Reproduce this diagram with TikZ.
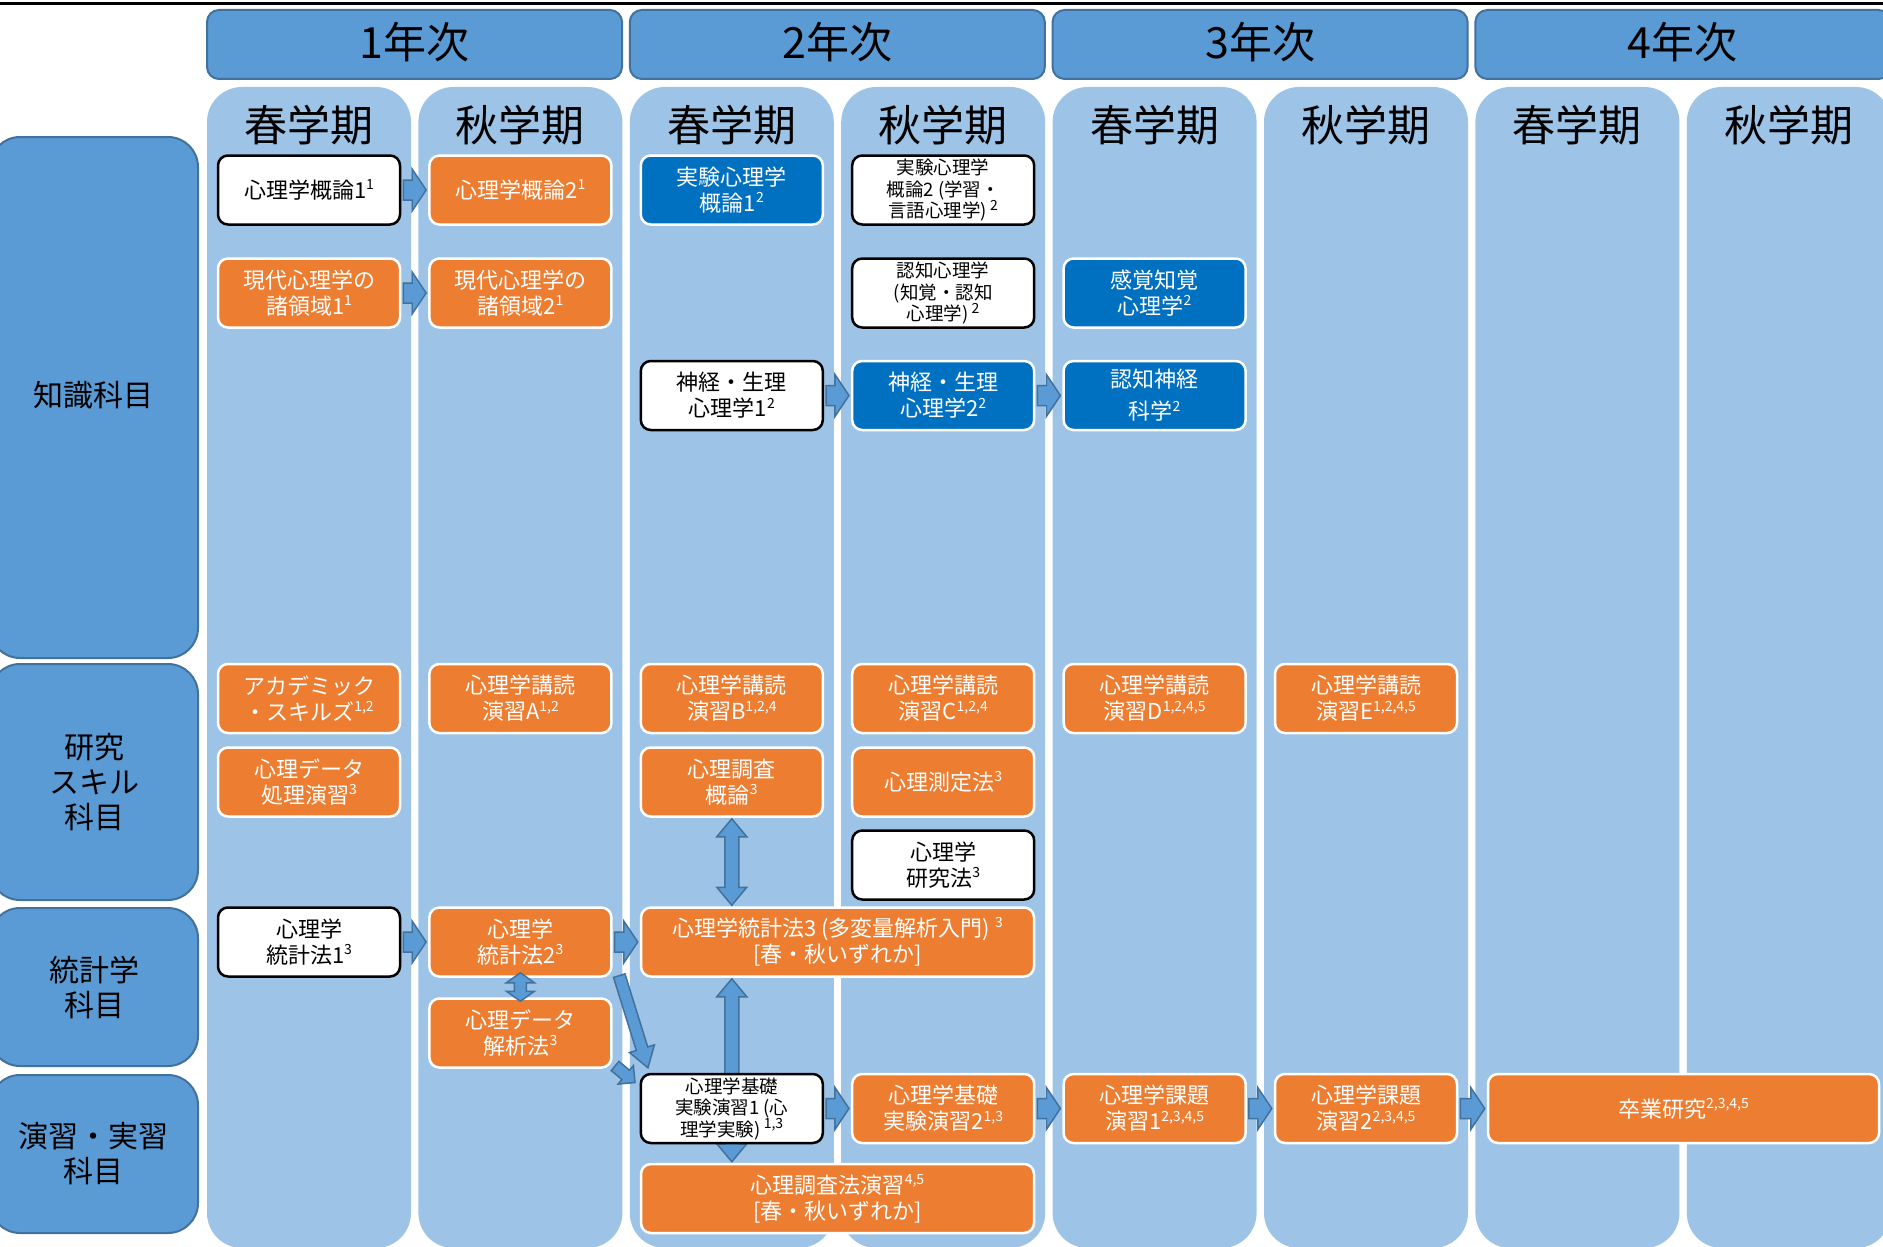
\documentclass[tikz,border=0pt]{standalone}
\usepackage{fontspec}
\setmainfont{Noto Sans CJK JP}
\usetikzlibrary{calc}
\definecolor{colbg}{HTML}{9DC3E6}
\definecolor{headbg}{HTML}{5B9BD5}
\definecolor{headline}{HTML}{41719C}
\definecolor{orangebox}{HTML}{ED7D31}
\definecolor{bluebox}{HTML}{0070C0}
\pgfdeclarelayer{back}
\pgfdeclarelayer{mid}
\pgfsetlayers{back,mid,main}
\newcommand\supnum[1]{\raisebox{.4em}{\fontsize{14}{14}\selectfont#1}}
\newcommand\fatarrow[5]{%
  \begin{scope}[x=1pt,y=1pt]
  \draw[blockarrow] let \p1=($(#4)!2pt!(#5)$),\p2=($(#5)!2pt!(#4)$),
    \n1={atan2((\y2)-(\y1),(\x2)-(\x1))},\n2={veclen((\x2)-(\x1),(\y2)-(\y1))-#3} in
    ($(\p1)+(\n1+90:#1)$) -- ($(\p1)+(\n1:\n2)+(\n1+90:#1)$) -- ($(\p1)+(\n1:\n2)+(\n1+90:#2)$) -- (\p2)
    -- ($(\p1)+(\n1:\n2)+(\n1-90:#2)$) -- ($(\p1)+(\n1:\n2)+(\n1-90:#1)$) -- ($(\p1)+(\n1-90:#1)$) -- cycle;
  \end{scope}}
\newcommand\fatdarrow[5]{%
  \begin{scope}[x=1pt,y=1pt]
  \draw[blockarrow] let \p1=($(#4)!1pt!(#5)$),\p2=($(#5)!1pt!(#4)$),
    \n1={atan2((\y2)-(\y1),(\x2)-(\x1))},\n2={veclen((\x2)-(\x1),(\y2)-(\y1))-#3} in
    (\p1) -- ($(\p1)+(\n1:#3)+(\n1+90:#2)$) -- ($(\p1)+(\n1:#3)+(\n1+90:#1)$) -- ($(\p1)+(\n1:\n2)+(\n1+90:#1)$)
    -- ($(\p1)+(\n1:\n2)+(\n1+90:#2)$) -- (\p2) -- ($(\p1)+(\n1:\n2)+(\n1-90:#2)$) -- ($(\p1)+(\n1:\n2)+(\n1-90:#1)$)
    -- ($(\p1)+(\n1:#3)+(\n1-90:#1)$) -- ($(\p1)+(\n1:#3)+(\n1-90:#2)$) -- cycle;
  \end{scope}}
\tikzset{
  course/.style={rounded corners=10pt,minimum width=182pt,minimum height=69pt,inner sep=1pt,align=center,
    line width=2.5pt,font=\fontsize{22}{26}\selectfont},
  wcourse/.style={course,draw=black,fill=white,text=black},
  ocourse/.style={course,draw=white,fill=orangebox,text=white},
  bcourse/.style={course,draw=white,fill=bluebox,text=white},
  smalltext/.style={font=\fontsize{18.5}{21.5}\selectfont},
  rowlabel/.style={draw=headline,fill=headbg,line width=2pt,rounded corners=30pt,align=center,
    minimum width=208pt,font=\fontsize{30}{35}\selectfont},
  yearbox/.style={draw=headline,fill=headbg,line width=2pt,rounded corners=12pt,minimum width=415pt,
    minimum height=69pt,font=\fontsize{43}{50}\selectfont},
  semlabel/.style={font=\fontsize{43}{50}\selectfont},
  blockarrow/.style={fill=headbg,draw=headline,line width=1.5pt,line join=miter}
}
\begin{document}
\begin{tikzpicture}[x=1pt,y=-1pt]
\useasboundingbox (0,0) rectangle (1883,1247);
\draw[line width=2.5pt] (0,3.5) -- (1883,3.5);
\begin{pgfonlayer}{back}
\foreach \i in {0,...,7}
  \fill[colbg,rounded corners=35pt] ({207+211.4*\i},87) rectangle ++(204,1161);
\end{pgfonlayer}
\foreach \i in {1,...,4}
  \node[yearbox] (year\i) at ({414.5+422.8*(\i-1)},44.5) {\raisebox{9pt}{\i 年次}};
\foreach \i/\sem in {1/春,2/秋,3/春,4/秋,5/春,6/秋,7/春,8/秋}
  \node[semlabel] (sem\i) at ({309+211.4*(\i-1)},125) {\sem 学期};
\node[rowlabel,minimum height=521pt] (knowledge) at (94,397.5) {\raisebox{7pt}{知識科目}};
\node[rowlabel,minimum height=236pt] (skill) at (94,782) {研究\\スキル\\科目};
\node[rowlabel,minimum height=158pt] (stats) at (94,987) {統計学\\科目};
\node[rowlabel,minimum height=158pt] (practice) at (94,1154) {演習・実習\\科目};

\node[wcourse] (c1A) at (309,190) {心理学概論1\supnum{1}};
\node[ocourse] (c2A) at (520.4,190) {心理学概論2\supnum{1}};
\node[bcourse] (c3A) at (731.8,190) {実験心理学\\概論1\supnum{2}};
\node[wcourse,smalltext] (c4A) at (943.2,190) {実験心理学\\概論2 (学習・\\言語心理学)\,\supnum{2}};
\node[ocourse] (c1B) at (309,293) {現代心理学の\\諸領域1\supnum{1}};
\node[ocourse] (c2B) at (520.4,293) {現代心理学の\\諸領域2\supnum{1}};
\node[wcourse,smalltext] (c4B) at (943.2,293) {認知心理学\\(知覚・認知\\心理学)\,\supnum{2}};
\node[bcourse] (c5B) at (1154.6,293) {感覚知覚\\心理学\supnum{2}};
\node[wcourse] (c3C) at (731.8,395.5) {神経・生理\\心理学1\supnum{2}};
\node[bcourse] (c4C) at (943.2,395.5) {神経・生理\\心理学2\supnum{2}};
\node[bcourse] (c5C) at (1154.6,395.5) {認知神経\\[6pt]科学\supnum{2}};

\node[ocourse] (c1D) at (309,698.5) {アカデミック\\・スキルズ\supnum{1,2}};
\node[ocourse] (c2D) at (520.4,698.5) {心理学講読\\演習A\supnum{1,2}};
\node[ocourse] (c3D) at (731.8,698.5) {心理学講読\\演習B\supnum{1,2,4}};
\node[ocourse] (c4D) at (943.2,698.5) {心理学講読\\演習C\supnum{1,2,4}};
\node[ocourse] (c5D) at (1154.6,698.5) {心理学講読\\演習D\supnum{1,2,4,5}};
\node[ocourse] (c6D) at (1366,698.5) {心理学講読\\演習E\supnum{1,2,4,5}};
\node[ocourse] (c1E) at (309,782) {心理データ\\処理演習\supnum{3}};
\node[ocourse] (c3E) at (731.8,782) {心理調査\\概論\supnum{3}};
\node[ocourse] (c4E) at (943.2,782) {心理測定法\supnum{3}};
\node[wcourse] (c4F) at (943.2,865) {心理学\\研究法\supnum{3}};

\node[wcourse] (c1G) at (309,942) {心理学\\統計法1\supnum{3}};
\node[ocourse] (c2G) at (520.4,942) {心理学\\統計法2\supnum{3}};
\node[ocourse,minimum width=393pt] (stat3) at (837.5,942) {心理学統計法3 (多変量解析入門)\ \supnum{3}\\{}[春・秋いずれか]};
\node[ocourse] (c2H) at (520.4,1033) {心理データ\\解析法\supnum{3}};

\node[wcourse,smalltext] (c3I) at (731.8,1108.5) {心理学基礎\\実験演習1 (心\\理学実験)\,\supnum{1,3}};
\node[ocourse] (c4I) at (943.2,1108.5) {心理学基礎\\実験演習2\supnum{1,3}};
\node[ocourse] (c5I) at (1154.6,1108.5) {心理学課題\\演習1\supnum{2,3,4,5}};
\node[ocourse] (c6I) at (1366,1108.5) {心理学課題\\演習2\supnum{2,3,4,5}};
\node[ocourse,minimum width=391pt] (thesis) at (1683.5,1108.5) {卒業研究\supnum{2,3,4,5}};
\node[ocourse,minimum width=393pt] (survey) at (837.5,1198.5) {心理調査法演習\supnum{4,5}\\{}[春・秋いずれか]};

\coordinate (s3top) at (c3E.south |- stat3.north);
\coordinate (s3bot) at (c3I.north |- stat3.south);
\coordinate (svtop) at (c3I.south |- survey.north);
\coordinate (anaA) at ($(c2G.south)+(0,-6)$);
\coordinate (anaB) at ($(c2H.north)+(0,5)$);
\coordinate (diagA) at ($(c2G.south east)+(6,-4)$);
\coordinate (diagB) at ($(c3I.north west)+(9,-3)$);
\coordinate (stubA) at ($(c3I.north west)+(-26,-8)$);
\coordinate (stubB) at ($(c3I.north west)+(-3,11)$);

\begin{pgfonlayer}{mid}
\fatdarrow{7}{15}{18}{s3bot}{svtop}
\end{pgfonlayer}
\fatarrow{10}{21}{14}{c1A.east}{c2A.west}
\fatarrow{10}{21}{14}{c1B.east}{c2B.west}
\fatarrow{10}{21}{14}{c3C.east}{c4C.west}
\fatarrow{10}{21}{14}{c4C.east}{c5C.west}
\fatarrow{10}{21}{14}{c1G.east}{c2G.west}
\fatarrow{10}{21}{14}{c2G.east}{stat3.west}
\fatarrow{10}{21}{14}{c3I.east}{c4I.west}
\fatarrow{10}{21}{14}{c4I.east}{c5I.west}
\fatarrow{10}{21}{14}{c5I.east}{c6I.west}
\fatarrow{10}{21}{14}{c6I.east}{thesis.west}
\fatdarrow{7}{15}{18}{c3E.south}{s3top}
\fatdarrow{6}{14}{10}{anaA}{anaB}
\fatarrow{6}{13}{20}{diagA}{diagB}
\fatarrow{6}{12}{12}{stubA}{stubB}
\end{tikzpicture}
\end{document}
